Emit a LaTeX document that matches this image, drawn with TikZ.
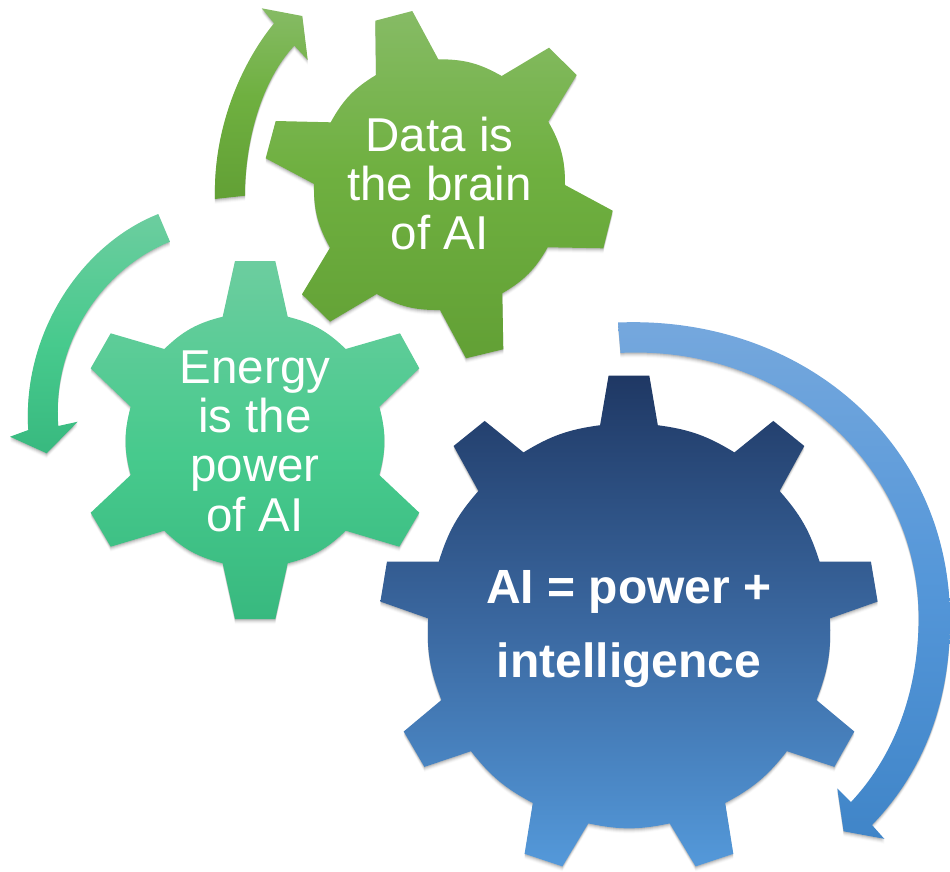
\documentclass[tikz,border=0pt]{standalone}
\usepackage{fontspec}
\setmainfont{Liberation Sans}
\definecolor{gTop}{HTML}{86BB65}\definecolor{gMid}{HTML}{6FB040}\definecolor{gBot}{HTML}{62A035}
\definecolor{tTop}{HTML}{6CCD9F}\definecolor{tMid}{HTML}{47CA8D}\definecolor{tBot}{HTML}{38B97F}
\definecolor{bTop}{HTML}{1F3864}\definecolor{bMid}{HTML}{3A679F}\definecolor{bBot}{HTML}{5499DA}
\definecolor{aTop}{HTML}{76A8DD}\definecolor{aMid}{HTML}{5597D9}\definecolor{aBot}{HTML}{4085C8}
\pgfdeclareverticalshading{gearG}{100bp}{color(0bp)=(gBot); color(25bp)=(gBot); color(52bp)=(gMid); color(75bp)=(gTop); color(100bp)=(gTop)}
\pgfdeclareverticalshading{gearT}{100bp}{color(0bp)=(tBot); color(25bp)=(tBot); color(48bp)=(tMid); color(75bp)=(tTop); color(100bp)=(tTop)}
\pgfdeclareverticalshading{gearN}{100bp}{color(0bp)=(bBot); color(25bp)=(bBot); color(50bp)=(bMid); color(75bp)=(bTop); color(100bp)=(bTop)}
\pgfdeclareverticalshading{gearA}{100bp}{color(0bp)=(aBot); color(25bp)=(aBot); color(50bp)=(aMid); color(75bp)=(aTop); color(100bp)=(aTop)}
\tikzset{
  greenfill/.style={shading=gearG},
  tealfill/.style={shading=gearT},
  navyfill/.style={shading=gearN},
  bluefill/.style={shading=gearA},
  arcS/.style={bend left=15},
  arcB/.style={bend left=12},
  gearlabel/.style={text=white,align=center,inner sep=0pt,font=\fontsize{47.5}{49.3}\selectfont},
  boldlabel/.style={text=white,align=center,inner sep=0pt,font=\fontsize{48}{74}\selectfont\bfseries}
}
\newcommand\softshadow[1]{%
  \foreach \d/\o in {1/.10,2/.08,3/.06,4/.04,5/.02}{\fill[black,opacity=\o,shift={(0,\d)}] #1;}}
\def\gearGreen{(376,75) -- (375.3,20.7) -- (412.3,11) -- (438.3,59.3) to[arcS] (501.7,76)
  -- (549,47.7) -- (576.7,75) -- (548.3,121.7) to[arcS] (565,185)
  -- (612.7,210.7) -- (603.3,248.3) -- (547.7,247.3) to[arcS] (502.3,293.3)
  -- (503.3,349.3) -- (466,358.3) -- (440,310) to[arcS] (376.7,294)
  -- (330,321.7) -- (302,294.3) -- (330,247.7) to[arcS] (314,184)
  -- (265.7,158.3) -- (275.7,121) -- (330.7,122.3) to[arcS] (376,75) -- cycle}
\def\gearTeal{(222.7,316.7) -- (235,261) -- (275.3,261) -- (287.7,316.7) to[arcS] (345.7,349)
  -- (400,333.3) -- (419.3,368.3) -- (379.3,406.7) to[arcS] (379.3,475)
  -- (419.3,512.7) -- (399.3,546.7) -- (345.7,530.7) to[arcS] (287.7,563.3)
  -- (275.3,619) -- (235,619) -- (222.7,563.3) to[arcS] (164.3,530.7)
  -- (110.7,546.7) -- (90.7,512.7) -- (130.7,475) to[arcS] (130.7,406.7)
  -- (90.7,368.3) -- (110.7,333.3) -- (164.3,349) to[arcS] (222.7,316.7) -- cycle}
\def\gearNavy{(600.1,425.2) -- (608.6,375.5) -- (649.3,375.5) -- (657.8,425.2) to[arcB] (734.4,452.4)
  -- (773.3,420.9) -- (804.3,446) -- (779.6,491) to[arcB] (819.5,561.5)
  -- (870.9,561.5) -- (877.6,601.6) -- (829.9,618.4) to[arcB] (816.5,700)
  -- (854.3,731.5) -- (834.3,766.9) -- (786.9,751.2) to[arcB] (725.2,803)
  -- (733.3,853.8) -- (695.6,866.4) -- (669.7,823.4) to[arcB] (588.3,823.4)
  -- (562.4,866.4) -- (524.6,853.8) -- (532.8,803) to[arcB] (471,751.2)
  -- (424.4,766.9) -- (403.7,731.5) -- (441.4,700) to[arcB] (428.1,618.4)
  -- (380.4,601.6) -- (387,561.5) -- (438.8,561.5) to[arcB] (478.4,491)
  -- (453.6,446) -- (484.7,420.9) -- (523.5,452.4) to[arcB] (600.1,425.2) -- cycle}
\def\arrowGreen{(215,199) .. controls (213,130) and (240,65) .. (274,23.3)
  -- (261.7,8.3) -- (302.3,16) -- (307.7,60) -- (294.3,45.7)
  .. controls (262,80) and (245,140) .. (245,195.7) -- cycle}
\def\arrowTeal{(158.3,214) .. controls (80,245) and (22,335) .. (28.3,430)
  -- (10,436.7) -- (46.7,453.3) -- (77.7,421.7) -- (58.3,426)
  .. controls (52,345) and (100,270) .. (170,241.7) -- cycle}
\def\arrowBlue{(618,322.5) .. controls (800,315) and (950,440) .. (950,620)
  .. controls (950,700) and (925,770) .. (872,825)
  -- (884.3,838.8) -- (843.6,831.3) -- (837.3,788.4) -- (851,802)
  .. controls (895,755) and (918.6,690) .. (918.6,617.7)
  .. controls (918.6,470) and (790,345) .. (620.5,352.9) -- cycle}
\begin{document}
\begin{tikzpicture}[x=1pt,y=-1pt]
  \useasboundingbox (0,0) rectangle (950,871);
  \softshadow{\arrowGreen}
  \softshadow{\arrowTeal}
  \softshadow{\arrowBlue}
  \softshadow{\gearGreen}
  \softshadow{\gearTeal}
  \softshadow{\gearNavy}
  \shade[greenfill] \arrowGreen;
  \shade[tealfill] \arrowTeal;
  \shade[bluefill] \arrowBlue;
  \shade[greenfill] \gearGreen;
  \shade[tealfill] \gearTeal;
  \shade[navyfill] \gearNavy;
  \node[gearlabel] (data) at (439.5,183.5) {Data is\\the brain\\of AI};
  \node[gearlabel] (energy) at (255,441) {Energy\\is the\\power\\of AI};
  \node[boldlabel] (ai) at (629,629) {AI = power +\\intelligence};
\end{tikzpicture}
\end{document}
